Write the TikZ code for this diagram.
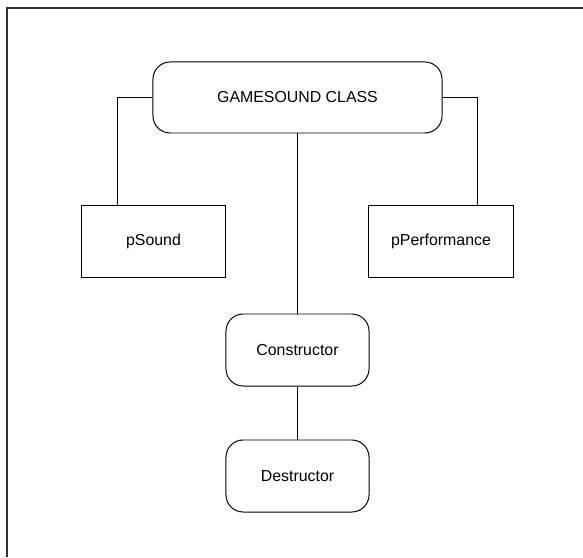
\documentclass[tikz,border=0pt]{standalone}
\usepackage{fontspec}
\setmainfont{Liberation Sans}
\usepackage{tikz}
\usetikzlibrary{positioning}
\tikzset{
    classbox/.style={rectangle, rounded corners=0.43cm, minimum width=7.225cm, minimum height=1.775cm, align=center, draw=black, line width=0.7pt, font=\fontsize{11.3}{13}\selectfont},
    member/.style={rectangle, minimum width=3.6cm, minimum height=1.775cm, align=center, draw=black, line width=0.7pt, font=\fontsize{11.3}{13}\selectfont},
    method/.style={rectangle, rounded corners=0.43cm, minimum width=3.575cm, minimum height=1.8cm, align=center, draw=black, line width=0.7pt, font=\fontsize{11.3}{13}\selectfont},
    link/.style={draw=black, line width=0.7pt},
    frame/.style={draw=black!80, line width=1.5pt}
}
\begin{document}
\begin{tikzpicture}[x=0.025cm, y=-0.025cm]
    \useasboundingbox (0,0) rectangle (583,557);
    % outer frame (only top and left edges visible)
    \draw[frame] (7,557) -- (7,8) -- (583,8);

    % Class and its members
    \node[classbox] (class) at (297.5,97.5) {GAMESOUND CLASS};
    \node[member, minimum width=3.575cm] (psound) at (153.5,241.5) {pSound};
    \node[member] (pperf) at (441,241.5) {pPerformance};

    % Methods
    \node[method] (ctor) at (297.5,350) {Constructor};
    \node[method] (dtor) at (297.5,476) {Destructor};

    % Connectors
    \draw[link] (class.west) -| ([xshift=0.9cm]psound.north west);
    \draw[link] (class.east) -| ([xshift=-0.9cm]pperf.north east);
    \draw[link] (class) -- (ctor);
    \draw[link] (ctor) -- (dtor);
\end{tikzpicture}
\end{document}
